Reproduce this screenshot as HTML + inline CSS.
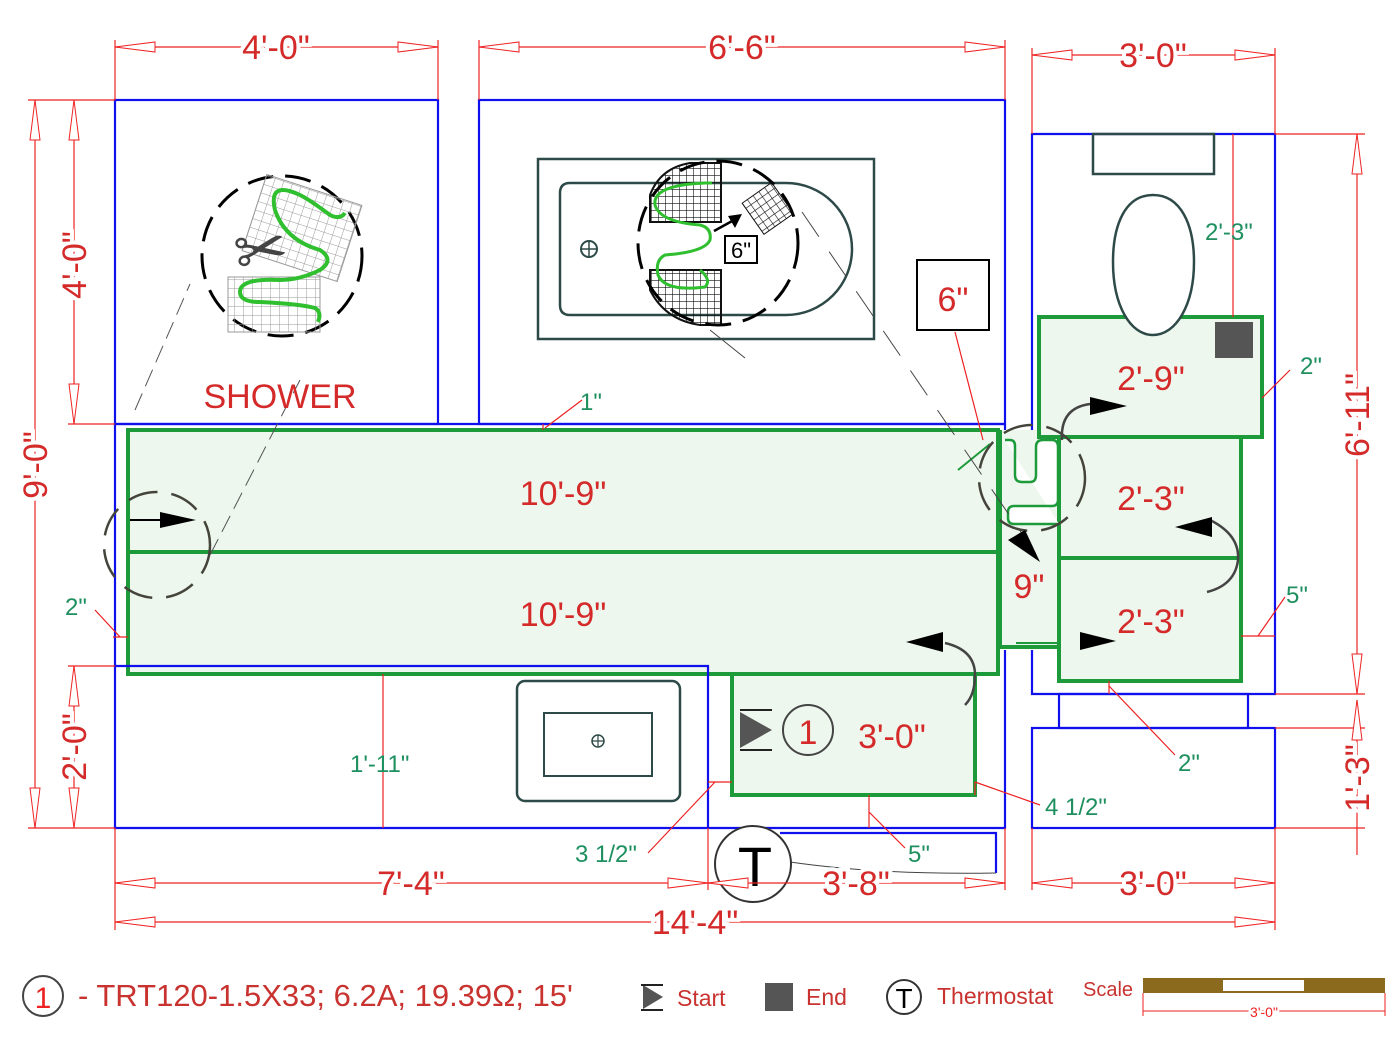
<!DOCTYPE html>
<html><head><meta charset="utf-8"><style>
html,body{margin:0;padding:0;background:#fff;}
svg{display:block;font-family:"Liberation Sans",sans-serif;}
.r{fill:#d42a2a;font-size:34px;text-anchor:middle;}
.rt{fill:#d42a2a;font-size:34px;text-anchor:middle;stroke:#fff;stroke-width:8px;paint-order:stroke;}
.g{fill:#1e8f5e;font-size:24px;}
.dl{stroke:#e22;stroke-width:1.2;fill:none;}
.ah{stroke:#e22;stroke-width:1;fill:#fff;}
.bl{stroke:#1010ee;stroke-width:2.2;fill:none;}
.gr{stroke:#1d9a3a;stroke-width:4;fill:#eef7ee;}
.cb{stroke:#000;stroke-width:3;fill:none;stroke-dasharray:26 12;}
.cg{stroke:#44443a;stroke-width:2.5;fill:none;stroke-dasharray:30 14;}
</style></head><body>
<svg width="1400" height="1049" viewBox="0 0 1400 1049" xmlns="http://www.w3.org/2000/svg">
<defs>
<pattern id="gd" width="9" height="9" patternUnits="userSpaceOnUse"><path d="M0 0H9M0 0V9" stroke="#999" stroke-width="1" fill="none"/></pattern>
<pattern id="gk" width="7" height="7" patternUnits="userSpaceOnUse"><path d="M0 0H7M0 0V7" stroke="#111" stroke-width="1.2" fill="none"/></pattern>
</defs>

<!-- green heated areas -->
<rect class="gr" x="128" y="430" width="870" height="244"/>
<line x1="128" y1="552" x2="998" y2="552" stroke="#1d9a3a" stroke-width="4"/>
<rect class="gr" x="732" y="674" width="243" height="121"/>
<rect x="1000" y="430" width="59" height="217" fill="#eef7ee" stroke="none"/>
<path d="M1000 430V647H1059" stroke="#1d9a3a" stroke-width="4" fill="none"/>
<rect class="gr" x="1059" y="437" width="182" height="244"/>
<line x1="1059" y1="558" x2="1241" y2="558" stroke="#1d9a3a" stroke-width="4"/>
<rect class="gr" x="1039" y="317" width="223" height="120"/>
<!-- U loop -->
<path d="M1005 440H1010Q1015 440 1015 446V475Q1015 482 1022 482H1030Q1036 482 1036 475V447Q1036 440 1043 440H1052Q1058 440 1058 447V500Q1058 506 1052 506H1014Q1008 506 1008 512V518Q1008 524 1014 524H1059" stroke="#1d9a3a" stroke-width="2.5" fill="#fff"/>
<line x1="958" y1="470" x2="990" y2="444" stroke="#1d9a3a" stroke-width="2"/>
<line x1="1016" y1="643" x2="1060" y2="643" stroke="#1d9a3a" stroke-width="2"/>

<!-- blue walls -->
<rect class="bl" x="115" y="100" width="323" height="324"/>
<rect class="bl" x="479" y="100" width="526" height="324"/>
<path class="bl" d="M115 424H1005M115 424V828H1005V650M115 666H708V828M1032 425V134H1275V694H1032V650M1005 424V430M1032 425V430"/>
<rect class="bl" x="1059" y="694" width="189" height="34"/>
<rect class="bl" x="1032" y="728" width="243" height="100"/>
<path class="bl" d="M780 833H996V873"/>

<!-- shower detail -->
<circle class="cb" cx="282" cy="256" r="80"/>
<g transform="rotate(18 302 228)"><rect x="252" y="188" width="100" height="80" fill="url(#gd)" stroke="#999"/></g>
<rect x="228" y="277" width="92" height="55" fill="url(#gd)" stroke="#999"/>
<path d="M345 213Q340 220 330 215Q310 200 300 195Q268 180 275 210Q285 240 320 250Q335 260 320 270Q300 280 280 280Q240 278 240 292Q240 302 260 302Q300 304 315 308Q322 312 318 322" stroke="#2fbf2f" stroke-width="4" fill="none"/>
<text x="262" y="272" font-size="64" fill="#444" text-anchor="middle" transform="rotate(-10 262 256)">✂</text>
<path d="M135 410L190 284M210 555L300 380" stroke="#555" stroke-width="1" stroke-dasharray="18 8"/>
<text x="280" y="408" class="r" font-size="38">SHOWER</text>

<!-- tub -->
<rect x="538" y="159" width="336" height="180" fill="none" stroke="#2e4a48" stroke-width="2.5"/>
<path d="M570 183H786A66 66 0 0 1 786 315H570Q560 315 560 305V193Q560 183 570 183Z" fill="none" stroke="#2e4a48" stroke-width="2.5"/>
<circle cx="589" cy="249" r="8" fill="none" stroke="#2e4a48" stroke-width="2"/><path d="M581 249H597M589 241V257" stroke="#2e4a48" stroke-width="1.5"/>
<path d="M650 222V195Q660 168 690 163H721V222Z" fill="url(#gk)" stroke="#111" stroke-width="2"/>
<path d="M650 270V290Q665 320 700 325H721V270Z" fill="url(#gk)" stroke="#111" stroke-width="2"/>
<ellipse cx="718" cy="243" rx="80" ry="82" class="cb"/>
<g transform="rotate(-35 767 209)"><rect x="750" y="190" width="36" height="38" fill="url(#gk)" stroke="#111"/></g>
<path d="M712 183H705Q652 185 655 205Q660 222 700 225Q712 228 710 240Q705 252 665 255Q655 260 658 275Q665 292 705 287Q712 280 700 270" stroke="#2fbf2f" stroke-width="3" fill="none"/>
<path d="M714 231L734 220" stroke="#000" stroke-width="2.5"/><polygon points="742,214 728,216 735,228" fill="#000"/>
<rect x="725" y="236" width="32" height="27" fill="#fff" stroke="#000" stroke-width="2"/>
<text x="741" y="258" font-size="22" text-anchor="middle">6"</text>
<path d="M802 212L1040 560" stroke="#444" stroke-width="1" stroke-dasharray="30 18"/>
<path d="M710 330L745 358" stroke="#444" stroke-width="1"/>
<rect x="917" y="260" width="72" height="70" fill="#fff" stroke="#000" stroke-width="2"/>
<text x="953" y="311" class="r" font-size="38">6"</text>
<path d="M955 332L983 440" stroke="#e22" stroke-width="1.2"/>

<!-- WC -->
<rect x="1093" y="134" width="121" height="40" fill="none" stroke="#2e4a48" stroke-width="2.5"/>
<path d="M1153 195C1125 195 1113 225 1113 262C1113 305 1130 335 1153 335C1176 335 1194 305 1194 262C1194 225 1181 195 1153 195Z" fill="#fff" stroke="#2e4a48" stroke-width="2.5"/>
<path d="M1233 134V317" stroke="#e22" stroke-width="1.2"/>
<text x="1205" y="240" class="g">2'-3"</text>
<rect x="1215" y="322" width="38" height="36" fill="#555"/>

<!-- dashed circles in floor -->
<circle class="cg" cx="157" cy="545" r="53"/>
<circle class="cg" cx="1032" cy="478" r="53"/>
<path d="M1062 440Q1060 408 1090 404" stroke="#444" stroke-width="2.5" fill="none"/>
<path d="M1210 520Q1240 535 1238 560Q1235 585 1207 592" stroke="#444" stroke-width="2.5" fill="none"/>
<path d="M945 643Q975 650 975 675Q975 695 965 705" stroke="#444" stroke-width="2.5" fill="none"/>
<!-- arrows -->
<polygon points="160,512 196,520 160,528" fill="#000"/><line x1="130" y1="520" x2="162" y2="520" stroke="#000" stroke-width="2"/>
<polygon points="1090,397 1127,406 1090,415" fill="#000"/>
<polygon points="1212,517 1175,527 1212,537" fill="#000"/>
<polygon points="943,632 906,642 943,652" fill="#000"/>
<polygon points="1080,632 1116,641 1080,650" fill="#000"/>
<polygon points="1008,540 1040,562 1025,530" fill="#000"/>

<!-- labels -->
<text x="563" y="505" class="r">10'-9"</text>
<text x="563" y="626" class="r">10'-9"</text>
<text x="1151" y="390" class="r">2'-9"</text>
<text x="1151" y="510" class="r">2'-3"</text>
<text x="1151" y="633" class="r">2'-3"</text>
<text x="1029" y="598" class="r">9"</text>
<text x="892" y="748" class="r">3'-0"</text>
<polygon points="740,712 772,730 740,748" fill="#555"/><path d="M740 710H772M740 750H772" stroke="#222" stroke-width="2"/>
<circle cx="808" cy="730" r="25" fill="none" stroke="#444" stroke-width="2"/>
<text x="808" y="744" class="r" font-size="36">1</text>

<!-- vanity -->
<rect x="517" y="681" width="163" height="120" rx="8" fill="none" stroke="#2e4a48" stroke-width="2.5"/>
<rect x="544" y="713" width="108" height="63" fill="none" stroke="#2e4a48" stroke-width="2"/>
<circle cx="598" cy="741" r="6" fill="none" stroke="#2e4a48" stroke-width="1.5"/><path d="M592 741H604M598 735V747" stroke="#2e4a48" stroke-width="1.2"/>

<!-- small green dims -->
<g stroke="#e22" stroke-width="1.2" fill="none">
<path d="M383 674V828M543 424V430M545 428L582 400M113 637H128M120 637L95 610M1262 398L1290 370M1241 636H1275M1258 636L1285 597M1109 681V694M1109 686L1175 755M869 795V828M869 812L905 848M975 782V795M975 782L1040 805M708 782H732M715 782L648 853"/>
</g>
<text x="350" y="772" class="g">1'-11"</text>
<text x="580" y="410" class="g">1"</text>
<text x="65" y="615" class="g">2"</text>
<text x="1300" y="374" class="g">2"</text>
<text x="1286" y="603" class="g">5"</text>
<text x="1178" y="771" class="g">2"</text>
<text x="908" y="862" class="g">5"</text>
<text x="1045" y="815" class="g">4 1/2"</text>
<text x="575" y="862" class="g">3 1/2"</text>

<!-- thermostat -->
<path d="M790 862Q880 875 996 873" stroke="#444" stroke-width="1" fill="none"/>
<circle cx="753" cy="864" r="38" fill="#fff" stroke="#333" stroke-width="2"/>
<text x="755" y="886" font-size="56" text-anchor="middle" fill="#000">T</text>

<!-- dimension lines -->
<g class="dl">
<path d="M115 40V100M438 40V100M115 47H438M479 40V100M1005 40V100M479 47H1005M1032 48V134M1275 48V134M1032 55H1275"/>
<path d="M28 100H115M28 828H115M35 100V828M68 424H115M74 100V424M68 666H115M74 666V828"/>
<path d="M1275 134H1365M1275 694H1365M1357 134V694M1275 728H1365M1275 828H1365M1357 700V855"/>
<path d="M115 828V930M708 828V890M1005 828V890M1032 828V890M1275 828V930M115 883H1005M1032 883H1275M115 922H1275"/>
</g>
<g class="ah">
<polygon points="115,47 155,42 155,52"/><polygon points="438,47 398,42 398,52"/>
<polygon points="479,47 519,42 519,52"/><polygon points="1005,47 965,42 965,52"/>
<polygon points="1032,55 1072,50 1072,60"/><polygon points="1275,55 1235,50 1235,60"/>
<polygon points="35,100 30,140 40,140"/><polygon points="35,828 30,788 40,788"/>
<polygon points="74,100 69,140 79,140"/><polygon points="74,424 69,384 79,384"/>
<polygon points="74,666 69,706 79,706"/><polygon points="74,828 69,788 79,788"/>
<polygon points="1357,134 1352,174 1362,174"/><polygon points="1357,694 1352,654 1362,654"/>
<polygon points="1357,700 1352,740 1362,740"/>
<polygon points="115,883 155,878 155,888"/><polygon points="708,883 668,878 668,888"/>
<polygon points="708,883 748,878 748,888"/><polygon points="1005,883 965,878 965,888"/>
<polygon points="1032,883 1072,878 1072,888"/><polygon points="1275,883 1235,878 1235,888"/>
<polygon points="115,922 155,917 155,927"/><polygon points="1275,922 1235,917 1235,927"/>
</g>
<text x="276" y="59" class="rt">4'-0"</text>
<text x="742" y="59" class="rt">6'-6"</text>
<text x="1153" y="67" class="rt">3'-0"</text>
<text x="411" y="895" class="rt">7'-4"</text>
<text x="856" y="895" class="rt">3'-8"</text>
<text x="1153" y="895" class="rt">3'-0"</text>
<text x="695" y="934" class="rt">14'-4"</text>
<text class="rt" transform="translate(47 465) rotate(-90)">9'-0"</text>
<text class="rt" transform="translate(86 265) rotate(-90)">4'-0"</text>
<text class="rt" transform="translate(86 747) rotate(-90)">2'-0"</text>
<text class="rt" transform="translate(1369 415) rotate(-90)">6'-11"</text>
<text class="rt" transform="translate(1369 778) rotate(-90)">1'-3"</text>

<!-- legend -->
<circle cx="43" cy="996" r="20" fill="none" stroke="#444" stroke-width="2"/>
<text x="43" y="1008" font-size="30" fill="#e22" text-anchor="middle">1</text>
<text x="78" y="1006" font-size="31" fill="#c8322f">- TRT120-1.5X33; 6.2A; 19.39Ω; 15'</text>
<polygon points="643,985 663,997 643,1009" fill="#555"/><path d="M641 985H663M641 1010H663" stroke="#222" stroke-width="2"/>
<text x="677" y="1006" font-size="23" fill="#c8322f">Start</text>
<rect x="765" y="983" width="28" height="28" fill="#555"/>
<text x="806" y="1005" font-size="23" fill="#c8322f">End</text>
<circle cx="904" cy="997" r="17" fill="none" stroke="#333" stroke-width="2"/>
<text x="904" y="1008" font-size="28" text-anchor="middle">T</text>
<text x="937" y="1004" font-size="23" fill="#c8322f">Thermostat</text>
<text x="1083" y="996" font-size="20" fill="#c8322f">Scale</text>
<rect x="1143" y="978" width="242" height="15" fill="#8b6a1e"/>
<rect x="1223" y="980" width="81" height="11" fill="#fff"/>
<path d="M1143 993V1016M1385 993V1016M1143 1011H1385" stroke="#e22" stroke-width="1"/>
<text x="1264" y="1017" font-size="14" fill="#e22" text-anchor="middle" stroke="#fff" stroke-width="4" paint-order="stroke">3'-0"</text>
</svg>
</body></html>
